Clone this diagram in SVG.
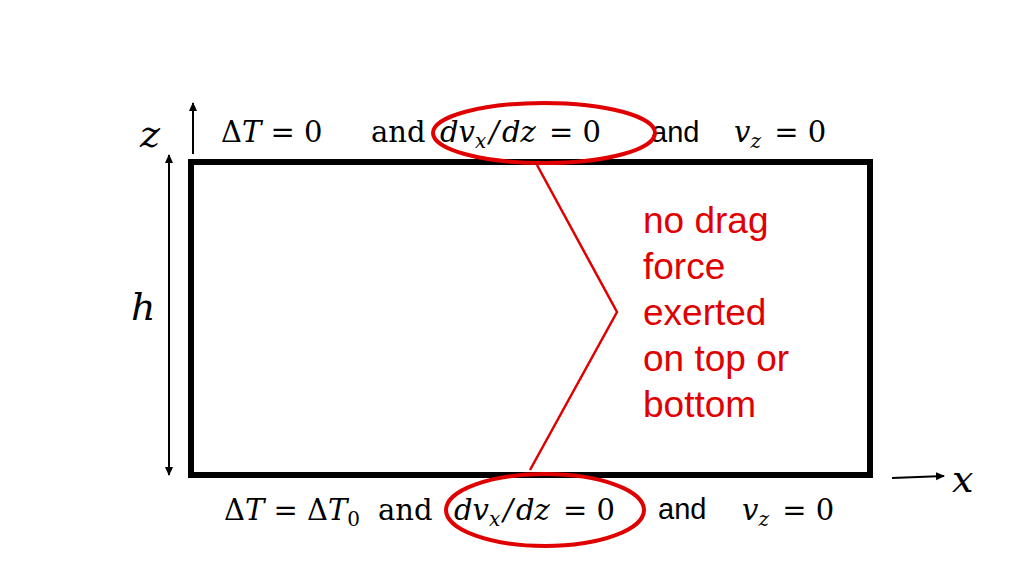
<svg xmlns="http://www.w3.org/2000/svg" width="1024" height="576" viewBox="0 0 1024 576">
<style>
.m{font-family:"DejaVu Serif","Liberation Serif",serif;font-size:29px;fill:#000}
.i{font-style:italic}
.sb{font-size:20px}
.big{font-size:38px}
.s{font-family:"Liberation Sans",Arial,sans-serif;font-size:29px;fill:#000}
.r{font-family:"Liberation Sans",Arial,sans-serif;font-size:37px;fill:#e00000}
.ax{stroke:#000;stroke-width:2;fill:none}
</style>
<defs>
<marker id="a" markerWidth="10" markerHeight="10" refX="8" refY="5" orient="auto-start-reverse" markerUnits="userSpaceOnUse"><path d="M0,1 L9,5 L0,9 Z" fill="#000"/></marker>
</defs>
<rect width="1024" height="576" fill="#fff"/>
<g id="box"><rect x="191" y="162" width="679" height="313" fill="none" stroke="#000" stroke-width="6"/></g>
<g id="axes">
<line class="ax" x1="193" y1="154" x2="193" y2="103" marker-end="url(#a)"/>
<text class="m i big" x="140" y="147">z</text>
<line class="ax" x1="169" y1="155" x2="169" y2="475" marker-start="url(#a)" marker-end="url(#a)"/>
<text class="m i big" x="131" y="320">h</text>
<line class="ax" x1="892" y1="478" x2="944" y2="476" marker-end="url(#a)"/>
<text class="m i big" x="952" y="492">x</text>
</g>
<g id="top">
<text class="m" x="221" y="142"><tspan>Δ</tspan><tspan class="i">T</tspan> = 0</text>
<text class="m" x="371" y="142">and</text>
<text class="m i" x="440" y="142">dv<tspan class="sb" dy="6">x</tspan><tspan dy="-6" dx="3">/</tspan><tspan dx="3">dz</tspan><tspan font-style="normal" dx="4"> = 0</tspan></text>
<text class="s" x="651" y="142">and</text>
<text class="m i" x="734" y="142">v<tspan class="sb" dy="6">z</tspan><tspan dy="-6" font-style="normal" dx="4"> = 0</tspan></text>
</g>
<g id="bottom">
<text class="m" x="224" y="520"><tspan>Δ</tspan><tspan class="i">T</tspan> = Δ<tspan class="i">T</tspan><tspan class="sb" dy="6">0</tspan></text>
<text class="m" x="378" y="520">and</text>
<text class="m i" x="454" y="520">dv<tspan class="sb" dy="6">x</tspan><tspan dy="-6" dx="3">/</tspan><tspan dx="3">dz</tspan><tspan font-style="normal" dx="4"> = 0</tspan></text>
<text class="s" x="658" y="519">and</text>
<text class="m i" x="742" y="520">v<tspan class="sb" dy="6">z</tspan><tspan dy="-6" font-style="normal" dx="4"> = 0</tspan></text>
</g>
<g id="connectors">
<ellipse cx="544" cy="133" rx="111" ry="30" fill="none" stroke="#e00000" stroke-width="4"/>
<ellipse cx="545" cy="510" rx="99" ry="36" fill="none" stroke="#e00000" stroke-width="4"/>
<polyline points="537,165 617,312 530,470" fill="none" stroke="#e00000" stroke-width="2.5"/>
</g>
<g id="note">
<text class="r" x="643" y="233">no drag</text>
<text class="r" x="643" y="279">force</text>
<text class="r" x="643" y="325">exerted</text>
<text class="r" x="643" y="371">on top or</text>
<text class="r" x="643" y="417">bottom</text>
</g>
</svg>
